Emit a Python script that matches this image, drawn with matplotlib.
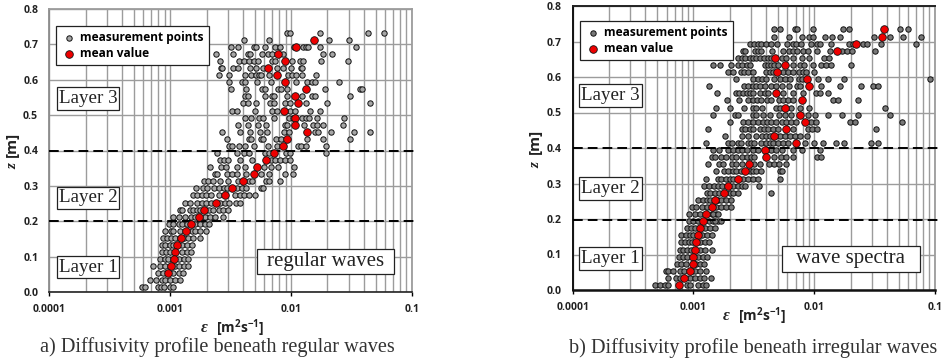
import matplotlib
matplotlib.use("Agg")
import matplotlib.pyplot as plt
from matplotlib.patches import Rectangle
from matplotlib.ticker import FixedFormatter, FixedLocator, NullFormatter

plt.rcParams["mathtext.fontset"] = "custom"
plt.rcParams["mathtext.bf"] = "Open Sans:bold"
plt.rcParams["mathtext.rm"] = "Open Sans:bold"

W, H = 943, 364
TICK_FONT = "Open Sans"
SERIF = "Liberation Serif"

y_ticks = [0.0, 0.1, 0.2, 0.3, 0.4, 0.5, 0.6, 0.7, 0.8]
y_labels = ["0.0", "0.1", "0.2", "0.3", "0.4", "0.5", "0.6", "0.7", "0.8"]
x_ticks = [0.0001, 0.001, 0.01, 0.1]
x_labels = ["0.0001", "0.001", "0.01", "0.1"]

# Regular waves: depth levels, log10(diffusivity) of the points on each level, level means
z_a = [0.733, 0.713, 0.693, 0.673, 0.653, 0.633, 0.613, 0.593, 0.573, 0.553, 0.533, 0.513, 0.493,
       0.473, 0.453, 0.433, 0.413, 0.393, 0.373, 0.353, 0.333, 0.313, 0.293, 0.273, 0.253, 0.233,
       0.213, 0.193, 0.173, 0.153, 0.133, 0.113, 0.093, 0.073, 0.053, 0.033, 0.013]
points_a = [
    [-2.03, -2.01, -1.76, -1.36, -1.23],
    [-2.39, -2.18, -1.69, -1.52],
    [-2.50, -2.44, -2.31, -2.29, -2.22, -2.13, -2.09, -1.98, -1.90, -1.88, -1.86, -1.76, -1.46],
    [-2.62, -2.48, -2.36, -2.34, -2.24, -2.19, -2.16, -2.07, -1.74, -1.66],
    [-2.59, -2.43, -2.39, -2.35, -2.31, -2.27, -2.155, -2.13, -1.99, -1.93, -1.90, -1.75, -1.53],
    [-2.58, -2.57, -2.48, -2.44, -2.34, -2.29, -2.23, -2.12, -2.07, -2.00, -1.92, -1.91],
    [-2.60, -2.51, -2.38, -2.33, -2.29, -2.265, -2.245, -2.18, -2.025, -1.99, -1.96, -1.91, -1.79],
    [-2.51, -2.41, -2.38, -2.28, -2.165, -1.96, -1.865, -1.83, -1.80, -1.60],
    [-2.50, -2.37, -2.24, -2.22, -2.11, -2.08, -2.03, -1.72, -1.43, -1.41],
    [-2.38, -2.355, -2.22, -2.155, -2.14, -2.03, -1.91, -1.83, -1.805, -1.515],
    [-2.40, -2.355, -2.29, -2.175, -2.145, -2.05, -2.01, -1.875, -1.70, -1.35],
    [-2.49, -2.445, -2.30, -2.16, -2.115, -2.005, -1.97, -1.84, -1.765],
    [-2.385, -2.335, -2.265, -2.23, -2.145, -2.02, -1.985, -1.91, -1.875, -1.85, -1.785, -1.56],
    [-2.44, -2.36, -2.27, -2.21, -2.05, -2.03, -1.89, -1.82, -1.785, -1.74, -1.57],
    [-2.575, -2.42, -2.34, -2.255, -2.20, -2.055, -2.02, -1.805, -1.775, -1.67, -1.477, -1.35],
    [-2.53, -2.35, -2.33, -2.25, -2.23, -2.125, -2.085, -1.87, -1.735, -1.51],
    [-2.51, -2.485, -2.435, -2.38, -2.31, -2.195, -2.12, -1.94, -1.92, -1.88, -1.715],
    [-2.615, -2.45, -2.39, -2.35, -2.22, -2.18, -2.045, -2.005, -1.715],
    [-2.59, -2.555, -2.52, -2.42, -2.32, -2.17, -2.135, -2.095, -2.05, -2.01],
    [-2.67, -2.58, -2.54, -2.45, -2.38, -2.225, -2.17, -2.11, -1.98],
    [-2.63, -2.615, -2.53, -2.485, -2.445, -2.37, -2.245, -2.18, -2.05, -1.985],
    [-2.72, -2.685, -2.65, -2.59, -2.52, -2.44, -2.35, -2.32, -2.21, -2.18, -2.09],
    [-2.79, -2.73, -2.695, -2.64, -2.60, -2.555, -2.53, -2.445, -2.41, -2.375, -2.25, -2.23],
    [-2.815, -2.78, -2.74, -2.70, -2.665, -2.60, -2.46, -2.425, -2.39, -2.35, -2.295],
    [-2.88, -2.84, -2.775, -2.74, -2.70, -2.665, -2.59, -2.55, -2.51, -2.455, -2.425],
    [-2.92, -2.90, -2.84, -2.815, -2.78, -2.755, -2.675, -2.645, -2.60, -2.56, -2.52],
    [-2.98, -2.93, -2.88, -2.83, -2.795, -2.71, -2.67, -2.63, -2.56],
    [-3.01, -2.975, -2.93, -2.90, -2.865, -2.795, -2.755, -2.71, -2.675],
    [-3.04, -2.99, -2.975, -2.915, -2.82, -2.795, -2.755, -2.70],
    [-3.06, -3.03, -2.995, -2.96, -2.92, -2.885, -2.85, -2.81, -2.755],
    [-3.07, -3.04, -3.00, -2.975, -2.905, -2.865, -2.82],
    [-3.07, -3.035, -3.00, -2.905, -2.865, -2.83],
    [-3.085, -3.04, -3.015, -2.93, -2.885, -2.85],
    [-3.145, -3.085, -3.04, -2.96, -2.93, -2.885, -2.85],
    [-3.10, -3.06, -2.975, -2.93, -2.89],
    [-3.17, -3.12, -3.07, -3.04, -3.00, -2.96, -2.92],
    [-3.23, -3.21, -3.10, -3.076, -3.05, -3.00, -2.975],
]
mean_z_a = [0.713, 0.693, 0.673, 0.653, 0.633, 0.613, 0.593, 0.573, 0.553, 0.533, 0.513, 0.493, 0.473,
            0.453, 0.433, 0.413, 0.393, 0.373, 0.353, 0.333, 0.313, 0.293, 0.273, 0.253, 0.233, 0.213,
            0.193, 0.173, 0.153, 0.133, 0.113, 0.093, 0.073, 0.053]
mean_a = [-1.81, -1.96, -2.105, -2.05, -2.19, -2.115, -2.05, -1.88, -1.97, -1.94, -2.06, -1.97, -1.97,
          -1.865, -2.03, -2.07, -2.145, -2.21, -2.28, -2.305, -2.40, -2.49, -2.55, -2.625, -2.72, -2.765,
          -2.83, -2.87, -2.91, -2.945, -2.96, -2.97, -2.99, -3.02]

# Wave spectra
z_b = [0.734, 0.714, 0.694, 0.674, 0.654, 0.634, 0.614, 0.594, 0.574, 0.554, 0.534, 0.514, 0.494,
       0.474, 0.454, 0.434, 0.414, 0.394, 0.374, 0.354, 0.334, 0.314, 0.294, 0.274, 0.254, 0.234,
       0.214, 0.194, 0.174, 0.154, 0.134, 0.114, 0.094, 0.074, 0.054, 0.034, 0.014]
points_b = [
    [-2.33, -2.28, -2.16, -2.14, -2.01, -1.76, -1.71, -1.29, -1.22],
    [-2.33, -2.21, -2.10, -2.04, -2.01, -1.91, -1.85, -1.79, -1.505, -1.375, -1.265, -1.12],
    [-2.535, -2.50, -2.465, -2.44, -2.40, -2.355, -2.31, -2.225, -2.175, -2.15, -2.11, -2.025, -1.98,
     -1.955, -1.86, -1.715, -1.68, -1.60, -1.565, -1.445, -1.155],
    [-2.59, -2.57, -2.49, -2.465, -2.44, -2.35, -2.26, -2.21, -2.175, -2.14, -2.095, -2.05, -1.975,
     -1.87, -1.77, -1.73, -1.69, -1.495],
    [-2.63, -2.60, -2.57, -2.535, -2.51, -2.48, -2.45, -2.42, -2.385, -2.355, -2.27, -2.23, -2.175,
     -2.10, -2.04, -1.915, -1.88],
    [-2.84, -2.78, -2.69, -2.63, -2.60, -2.56, -2.535, -2.41, -2.385, -2.355, -2.33, -2.30, -2.175,
     -2.115, -2.085, -2.01, -1.94, -1.90, -1.865, -1.695],
    [-2.715, -2.67, -2.61, -2.585, -2.55, -2.51, -2.40, -2.37, -2.34, -2.26, -2.22, -2.175, -2.125,
     -2.095, -2.065, -2.00],
    [-2.65, -2.51, -2.465, -2.43, -2.40, -2.33, -2.285, -2.245, -2.20, -2.125, -2.10, -1.965, -1.885,
     -1.755, -1.045],
    [-2.875, -2.585, -2.55, -2.51, -2.48, -2.45, -2.405, -2.355, -2.32, -2.27, -2.21, -2.14, -2.12,
     -1.94, -1.79, -1.61, -1.51, -1.47],
    [-2.805, -2.645, -2.62, -2.59, -2.56, -2.535, -2.51, -2.445, -2.41, -2.38, -2.26, -2.175, -2.095,
     -1.985, -1.955, -1.885],
    [-2.72, -2.625, -2.55, -2.51, -2.475, -2.44, -2.39, -2.355, -2.29, -2.26, -2.22, -2.175, -1.845,
     -1.80, -1.64],
    [-2.81, -2.70, -2.585, -2.51, -2.485, -2.43, -2.32, -2.28, -2.19, -2.12, -2.045, -1.41],
    [-2.84, -2.66, -2.63, -2.51, -2.48, -2.425, -2.37, -2.29, -2.245, -2.19, -2.05, -1.995, -1.885,
     -1.77, -1.64, -1.375],
    [-2.70, -2.59, -2.55, -2.51, -2.465, -2.425, -2.39, -2.355, -2.315, -2.27, -2.23, -2.19, -2.15,
     -2.025, -1.985, -1.70, -1.665, -1.275],
    [-2.88, -2.60, -2.57, -2.535, -2.51, -2.45, -2.42, -2.385, -2.34, -2.30, -2.175, -2.05, -2.015,
     -1.98, -1.485],
    [-2.74, -2.60, -2.55, -2.485, -2.43, -2.40, -2.37, -2.285, -2.245, -2.20, -2.16, -2.12, -2.06],
    [-2.90, -2.715, -2.68, -2.63, -2.61, -2.55, -2.52, -2.495, -2.44, -2.40, -2.37, -2.34, -2.30, -2.26,
     -2.22, -2.08, -2.00, -1.93, -1.82, -1.755, -1.53, -1.47],
    [-2.84, -2.785, -2.715, -2.67, -2.63, -2.595, -2.56, -2.51, -2.465, -2.355, -2.315, -2.27, -2.175,
     -2.10, -1.955],
    [-2.85, -2.825, -2.77, -2.73, -2.685, -2.645, -2.60, -2.56, -2.52, -2.495, -2.33, -2.275, -2.23,
     -2.175, -1.98, -1.94],
    [-2.88, -2.785, -2.755, -2.685, -2.645, -2.60, -2.495, -2.45, -2.375, -2.335, -2.29, -2.23],
    [-2.815, -2.75, -2.715, -2.67, -2.645, -2.61, -2.535, -2.505, -2.48, -2.44, -2.285, -2.27],
    [-2.90, -2.80, -2.77, -2.73, -2.70, -2.67, -2.59, -2.55, -2.505, -2.465, -2.28],
    [-2.91, -2.87, -2.83, -2.80, -2.76, -2.67, -2.63, -2.60, -2.57, -2.46],
    [-2.89, -2.86, -2.825, -2.79, -2.70, -2.67, -2.63, -2.355],
    [-2.96, -2.925, -2.89, -2.865, -2.795, -2.77, -2.73, -2.69],
    [-3.015, -2.98, -2.93, -2.89, -2.81, -2.77, -2.73, -2.69],
    [-3.035, -2.99, -2.945, -2.85, -2.81, -2.84, -2.80],
    [-3.035, -3.00, -2.96, -2.875, -2.835, -2.795, -2.825, -2.77],
    [-3.055, -3.02, -2.99, -2.905, -2.865, -2.82],
    [-3.10, -3.065, -3.03, -3.00, -2.93, -2.89, -2.85],
    [-3.10, -3.07, -3.04, -3.015, -2.945, -2.905, -2.875],
    [-3.11, -3.085, -3.05, -3.02, -2.945, -2.905, -2.85],
    [-3.12, -3.085, -3.05, -2.96, -2.925, -2.89],
    [-3.14, -3.10, -3.06, -2.975, -2.945, -2.91],
    [-3.23, -3.21, -3.17, -3.11, -3.08, -2.99, -2.945, -2.90],
    [-3.215, -3.145, -3.11, -3.03, -2.99, -2.945, -2.91, -2.855],
    [-3.32, -3.275, -3.235, -3.21, -3.055, -3.03, -2.96, -2.925, -2.90],
]
mean_z_b = z_b
mean_b = [-1.42, -1.44, -1.655, -1.81, -2.325, -2.245, -2.31, -2.06, -2.04, -2.32, -2.105, -2.24, -2.115,
          -2.075, -2.23, -2.33, -2.155, -2.41, -2.40, -2.54, -2.575, -2.63, -2.71, -2.75, -2.825, -2.85,
          -2.895, -2.92, -2.95, -2.965, -2.98, -2.99, -3.00, -3.00, -3.025, -3.075, -3.12]

layer_dividers_a = [0.4, 0.2]
layer_dividers_b = [0.4, 0.196]


def fx(x):
    return x / W


def fy(y):
    return 1 - y / H


def label_box(fig, text, x0, y0, x1, y1, size=13.7):
    fig.add_artist(Rectangle((fx(x0), fy(y1)), (x1 - x0) / W, (y1 - y0) / H, transform=fig.transFigure,
                             facecolor="white", edgecolor="#222222", linewidth=0.9, zorder=6))
    fig.text(fx((x0 + x1) / 2), fy((y0 + y1) / 2), text, family=SERIF, fontsize=size, color="#222222",
             ha="center", va="center", zorder=7)


def panel(fig, box, levels, points, mean_z, mean, dividers, point_color, spine_colors, legend_box):
    x0, y0, x1, y1 = box
    ax = fig.add_axes([fx(x0), fy(y1), (x1 - x0) / W, (y1 - y0) / H])
    ax.set_xscale("log")
    ax.set_xlim(1e-4, 0.1)
    ax.set_ylim(0, 0.8)

    ax.grid(True, which="both", color="#9c9c9c", linewidth=1.0, zorder=1)
    ax.set_axisbelow(True)

    xs = [10 ** v for row in points for v in row]
    zs = [z for z, row in zip(levels, points) for _ in row]
    h_points = ax.scatter(xs, zs, s=15, facecolor=point_color, edgecolor="#111111", linewidth=0.7,
                          zorder=3, clip_on=False, label="measurement points")
    h_mean = ax.scatter([10 ** v for v in mean], mean_z, s=30, facecolor="#ee0000", edgecolor="#111111",
                        linewidth=0.6, zorder=4, label="mean value")

    for d in dividers:
        ax.plot([1e-4, 0.107], [d, d], color="black", linewidth=1.4, dashes=(5, 2.6), zorder=3.5, clip_on=False)

    ax.xaxis.set_major_locator(FixedLocator(x_ticks))
    ax.xaxis.set_major_formatter(FixedFormatter(x_labels))
    ax.xaxis.set_minor_formatter(NullFormatter())
    ax.set_yticks(y_ticks)
    ax.set_yticklabels(y_labels)
    ax.tick_params(axis="x", which="major", length=3, width=1, pad=6, labelsize=7.5)
    ax.tick_params(axis="x", which="minor", length=0)
    ax.tick_params(axis="y", length=0, pad=8, labelsize=7.6)
    for t in ax.get_xticklabels() + ax.get_yticklabels():
        t.set_family(TICK_FONT)
        t.set_fontweight("bold")
        t.set_color("#222222")

    for side, (c, lw) in spine_colors.items():
        ax.spines[side].set_color(c)
        ax.spines[side].set_linewidth(lw)

    leg = ax.legend(handles=[h_points, h_mean], loc="upper left", fancybox=False, framealpha=1,
                    edgecolor="#222222", labelspacing=0.22, handletextpad=0.2, borderpad=0.42,
                    handlelength=1.4, borderaxespad=0, scatterpoints=1,
                    bbox_to_anchor=(fx(legend_box[0]), fy(legend_box[1])), bbox_transform=fig.transFigure,
                    prop={"family": TICK_FONT, "weight": "bold", "size": 8.6})
    leg.get_frame().set_linewidth(0.9)
    leg.set_zorder(8)
    return ax


fig = plt.figure(figsize=(W / 100, H / 100), dpi=100)

panel(fig, (49.3, 9, 412, 292), z_a, points_a, mean_z_a, mean_a, layer_dividers_a, "#a6a6a6",
      {"left": ("#8c8c8c", 1.3), "top": ("#9c9c9c", 1.3), "right": ("#9c9c9c", 1.3), "bottom": ("#222222", 1.2)},
      (56, 26))
panel(fig, (572.7, 6, 935, 290), z_b, points_b, mean_z_b, mean_b, layer_dividers_b, "#787878",
      {"left": ("#111111", 1.4), "top": ("#222222", 1.4), "right": ("#9c9c9c", 1.3), "bottom": ("#111111", 1.8)},
      (580, 21))

label_box(fig, "Layer 3", 57, 87, 119, 110)
label_box(fig, "Layer 2", 57, 187, 119, 209)
label_box(fig, "Layer 1", 57, 256, 119, 278)
label_box(fig, "regular waves", 257, 249, 394, 274, size=15)
label_box(fig, "Layer 3", 579, 84, 642, 107)
label_box(fig, "Layer 2", 579, 177, 642, 200)
label_box(fig, "Layer 1", 579, 247, 642, 270)
label_box(fig, "wave spectra", 782, 246, 920, 272, size=15)

# Axis titles are placed by hand so that the italic symbol and bold unit can use two fonts
for x, y_unit, y_sym in [(12, 144, 166), (535, 141, 165)]:
    fig.text(fx(x), fy(y_unit), "[m]", family=TICK_FONT, fontweight="bold", fontsize=11, rotation=90,
             ha="center", va="center", color="#222222")
    fig.text(fx(x + 1), fy(y_sym), "z", family=SERIF, style="italic", fontweight="bold", fontsize=11,
             rotation=90, ha="center", va="center", color="#222222")

for x_sym, x_unit, y in [(204, 216, 328), (726, 738, 316)]:
    fig.text(fx(x_sym), fy(y), "\u03b5", family=SERIF, style="italic", fontweight="bold", fontsize=12,
             ha="center", va="center", color="#222222")
    fig.text(fx(x_unit), fy(y), r"$\mathbf{[m^{2}s^{-1}]}$", fontsize=10, ha="left", va="center", color="#222222")

fig.text(fx(40), fy(347), "a) Diffusivity profile beneath regular waves", family=SERIF, fontsize=14.6,
         ha="left", va="center", color="#333333")
fig.text(fx(569), fy(348), "b) Diffusivity profile beneath irregular waves", family=SERIF, fontsize=14.6,
         ha="left", va="center", color="#333333")

fig.savefig("out.png", dpi=100)
